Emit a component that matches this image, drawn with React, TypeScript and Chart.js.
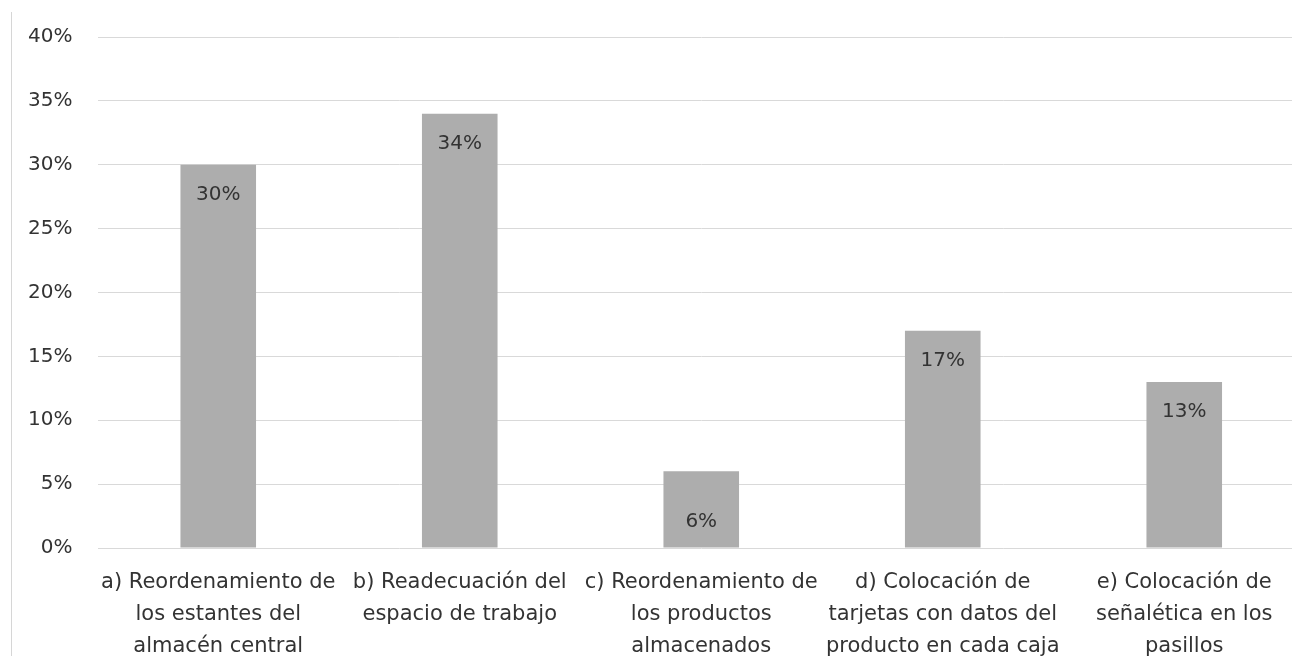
import React, { useEffect, useRef } from "react";
import { Chart, registerables } from "chart.js";

Chart.register(...registerables);

const categories: string[][] = [
  ["a) Reordenamiento de", "los estantes del", "almacén central"],
  ["b) Readecuación del", "espacio de trabajo"],
  ["c) Reordenamiento de", "los productos", "almacenados"],
  ["d) Colocación de", "tarjetas con datos del", "producto en cada caja"],
  ["e) Colocación de", "señalética en los", "pasillos"],
];
const values: number[] = [30, 34, 6, 17, 13];
const yTicks: number[] = [0, 5, 10, 15, 20, 25, 30, 35, 40];

const FONT = "'DejaVu Sans', 'Noto Sans', sans-serif";
const TEXT = "#333333";
const BAR = "#adadad";
const GRID = "#d9d9d9";

const CANVAS_W = 1305;
const CANVAS_H = 656;

const labelPlugin = {
  id: "insideLabels",
  afterDatasetsDraw(chart: any) {
    const { ctx } = chart;
    const meta = chart.getDatasetMeta(0);
    ctx.save();
    ctx.fillStyle = TEXT;
    ctx.font = `20px ${FONT}`;
    ctx.textAlign = "center";
    ctx.textBaseline = "middle";
    meta.data.forEach((el: any, i: number) => {
      const h = el.base - el.y;
      const y = h > 100 ? el.y + 30 : el.base - 26;
      ctx.fillText(`${values[i]}%`, el.x, y);
    });
    ctx.restore();
  },
};

export default function App() {
  const ref = useRef<HTMLCanvasElement | null>(null);

  useEffect(() => {
    if (!ref.current) return;
    const chart = new Chart(ref.current, {
      type: "bar",
      data: {
        labels: categories,
        datasets: [
          {
            data: values,
            backgroundColor: BAR,
            borderWidth: 0,
            barPercentage: 1,
            categoryPercentage: 0.313,
          },
        ],
      },
      options: {
        animation: false,
        responsive: false,
        maintainAspectRatio: false,
        layout: { padding: { top: 34, right: 0, left: 0, bottom: 0 } },
        plugins: {
          legend: { display: false },
          tooltip: { enabled: false },
        },
        scales: {
          x: {
            grid: { display: false, drawTicks: false },
            border: { display: false },
            ticks: {
              color: TEXT,
              font: { family: FONT, size: 21, lineHeight: 1.52 },
              padding: 19,
              maxRotation: 0,
              autoSkip: false,
            },
            afterFit: (s: any) => {
              s.height = 108;
            },
          },
          y: {
            min: 0,
            max: 40,
            afterBuildTicks: (s: any) => {
              s.ticks = yTicks.map((v) => ({ value: v }));
            },
            grid: { color: GRID, lineWidth: 1, drawTicks: false },
            border: { display: false },
            ticks: {
              color: TEXT,
              font: { family: FONT, size: 20 },
              padding: 25,
              callback: (v: any) => `${v}%`,
            },
            afterFit: (s: any) => {
              s.width = 97.5;
            },
          },
        },
      },
      plugins: [labelPlugin],
    });
    return () => chart.destroy();
  }, []);

  return (
    <div
      style={{
        position: "fixed",
        left: 0,
        top: 0,
        width: 1292,
        height: 656,
        overflow: "hidden",
        background: "#fff",
      }}
    >
      <div
        style={{
          position: "absolute",
          left: 11,
          top: 12,
          width: 1,
          height: 644,
          background: "#d6d6d6",
        }}
      />
      <canvas
        ref={ref}
        width={CANVAS_W}
        height={CANVAS_H}
        style={{ position: "absolute", left: 0, top: 0, width: CANVAS_W, height: CANVAS_H }}
      />
    </div>
  );
}
